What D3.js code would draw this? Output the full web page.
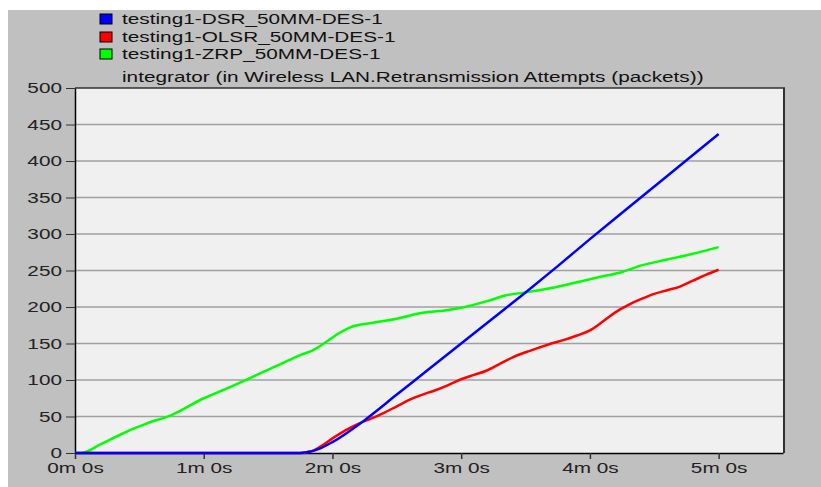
<!DOCTYPE html>
<meta charset="utf-8">
<script src="https://d3js.org/d3.v7.min.js"></script>
<style>
  body { margin: 0; background: #fff; }
  text { font-family: "Liberation Sans", Arial, sans-serif; }
</style>
<body>
<svg id="chart" width="821" height="487"></svg>
<script>
// series names and colours
const seriesNames = ["testing1-DSR_50MM-DES-1", "testing1-OLSR_50MM-DES-1", "testing1-ZRP_50MM-DES-1"];
const seriesColors = ["#0000ff", "#ff0000", "#00ff00"];
const chartTitle = "integrator (in Wireless LAN.Retransmission Attempts (packets))";

// time in minutes, value in packets
const dsrTime = [0, 1.75, 1.83, 1.9, 2.0, 2.25, 2.5, 2.75, 3.0, 3.25, 3.5, 3.75, 4.0, 4.25, 4.5, 4.75, 5.0];
const dsrVal  = [0, 0, 2, 6, 15, 45, 80, 115, 150, 185, 220, 256, 293, 329, 365, 401, 437];

const olsrTime = [0, 1.75, 1.83, 1.9, 2.0, 2.1, 2.2, 2.3, 2.4, 2.5, 2.6, 2.7, 2.8, 2.9, 3.0, 3.1, 3.2, 3.3, 3.4, 3.5, 3.6, 3.7, 3.8, 3.9, 4.0, 4.1, 4.2, 4.3, 4.4, 4.5, 4.6, 4.7, 4.8, 4.9, 5.0];
const olsrVal  = [0, 0, 2, 8, 20, 31, 40, 47, 55, 64, 73, 80, 86, 93, 101, 107, 113, 122, 131, 138, 144, 150, 155, 161, 168, 180, 193, 203, 211, 218, 223, 228, 236, 244, 251];

const zrpTime = [0, 0.05, 0.2, 0.35, 0.45, 0.55, 0.75, 1.0, 1.2, 1.4, 1.6, 1.75, 1.85, 1.95, 2.05, 2.15, 2.3, 2.5, 2.7, 2.9, 3.0, 3.2, 3.35, 3.5, 3.7, 3.9, 4.1, 4.25, 4.4, 4.6, 4.8, 5.0];
const zrpVal  = [0, 0, 12, 25, 33, 40, 52, 75, 90, 106, 122, 134, 141, 152, 164, 173, 178, 184, 192, 196, 199, 208, 216, 220, 226, 234, 242, 248, 257, 265, 273, 282];

const xTicks = [0, 1, 2, 3, 4, 5];
const xTickLabels = ["0m 0s", "1m 0s", "2m 0s", "3m 0s", "4m 0s", "5m 0s"];
const yTicks = [0, 50, 100, 150, 200, 250, 300, 350, 400, 450, 500];

const svg = d3.select("#chart");
const stretch = 1.385; // text in the picture is wide

// grey panel
svg.append("rect").attr("x", 8).attr("y", 10).attr("width", 813).attr("height", 477).attr("fill", "#c0c0c0");

const plotL = 75, plotT = 88, plotR = 783, plotB = 453;
const x = d3.scaleLinear().domain([0, 5.5]).range([plotL, plotR]);
const y = d3.scaleLinear().domain([0, 500]).range([plotB, plotT]);

// plot area
svg.append("rect").attr("x", plotL).attr("y", plotT).attr("width", plotR - plotL).attr("height", plotB - plotT)
  .attr("fill", "#f0f0f0");
svg.append("line").attr("x1", plotR + 1).attr("x2", plotR + 1).attr("y1", plotT).attr("y2", plotB)
  .attr("stroke", "#303030").attr("stroke-width", 2);
svg.append("line").attr("x1", plotL).attr("x2", plotR + 2).attr("y1", plotT).attr("y2", plotT)
  .attr("stroke", "#303030").attr("stroke-width", 1.5);

// grid
svg.append("g").selectAll("line")
  .data(yTicks.filter(d => d > 0 && d < 500))
  .join("line")
    .attr("x1", plotL).attr("x2", plotR)
    .attr("y1", d => y(d)).attr("y2", d => y(d))
    .attr("stroke", "#a0a0a0").attr("stroke-width", 1.5);

// axes
const yAxis = svg.append("g").attr("transform", `translate(${plotL},0)`)
  .call(d3.axisLeft(y).tickValues(yTicks).tickSize(9).tickSizeOuter(0));
yAxis.select(".domain").attr("stroke", "#000").attr("stroke-width", 1.5);
yAxis.selectAll(".tick line").attr("stroke", "#333");
yAxis.selectAll("text")
  .attr("x", 0).attr("dy", "0.3em")
  .attr("transform", `translate(-13,0) scale(${stretch},1)`)
  .style("font-size", "15px").attr("fill", "#222");

const xAxis = svg.append("g").attr("transform", `translate(0,${plotB})`)
  .call(d3.axisBottom(x).tickValues(xTicks).tickFormat((d, i) => xTickLabels[i]).tickSize(6).tickSizeOuter(0));
xAxis.select(".domain").attr("stroke", "#000").attr("stroke-width", 1.5);
xAxis.selectAll(".tick line").attr("stroke", "#333").attr("stroke-width", 1.5);
xAxis.selectAll("text")
  .attr("y", 0).attr("dy", 0)
  .attr("transform", `translate(0,20) scale(${stretch},1)`)
  .style("font-size", "15px").attr("fill", "#222");

// lines (green under red under blue)
const line = d3.line().x(d => x(d[0])).y(d => y(d[1])).curve(d3.curveMonotoneX);
const series = [
  { t: zrpTime, v: zrpVal, c: seriesColors[2] },
  { t: olsrTime, v: olsrVal, c: seriesColors[1] },
  { t: dsrTime, v: dsrVal, c: seriesColors[0] }
];
series.forEach(s => {
  svg.append("path")
    .datum(s.t.map((t, i) => [t, s.v[i]]))
    .attr("d", line)
    .attr("fill", "none")
    .attr("stroke", s.c)
    .attr("stroke-width", 2.5);
});

// legend
const rowY = [19, 37, 54];
seriesNames.forEach((name, i) => {
  svg.append("rect").attr("x", 100).attr("y", rowY[i] - 5).attr("width", 12).attr("height", 10)
    .attr("fill", seriesColors[i]).attr("stroke", "#000").attr("stroke-width", 1);
  svg.append("text")
    .attr("transform", `translate(122,${rowY[i]}) scale(${stretch},1)`)
    .attr("dy", "0.36em")
    .style("font-size", "15px").attr("fill", "#111")
    .text(name);
});

svg.append("text")
  .attr("transform", `translate(122,77) scale(${stretch},1)`)
  .attr("dy", "0.36em")
  .style("font-size", "15px").attr("fill", "#111")
  .text(chartTitle);
</script>
</body>
